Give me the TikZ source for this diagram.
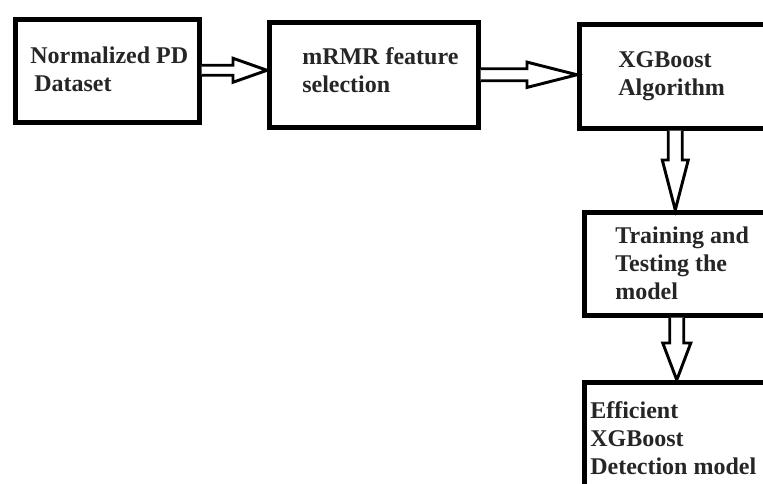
\documentclass[tikz,border=0pt]{standalone}
\usepackage{fontspec}
\setmainfont{Liberation Serif}
\usetikzlibrary{calc}
\tikzset{
  px/.style={x=0.75pt,y=-0.75pt},
  box/.style={draw=black,line width=3.4pt,fill=white,inner sep=0pt},
  barrow/.style={draw=black,line width=2.2pt,fill=white,line join=miter},
  lbl/.style={anchor=north west,inner sep=0pt,align=left,font=\bfseries\fontsize{18}{21}\selectfont,text=black!85}
}
\newcommand{\harr}[5]{\draw[barrow] let \p1=(#1), \p2=(#2) in
  (\x1,\y1+#3) -- (\x2-#5,\y1+#3) -- (\x2-#5,\y1+#4) -- (\x2,\y1) -- (\x2-#5,\y1-#4) -- (\x2-#5,\y1-#3) -- (\x1,\y1-#3);}
\newcommand{\varr}[5]{\draw[barrow] let \p1=(#1), \p2=(#2) in
  (\x1-#3,\y1) -- (\x1-#3,\y2+#5) -- (\x1-#4,\y2+#5) -- (\x1,\y2) -- (\x1+#4,\y2+#5) -- (\x1+#3,\y2+#5) -- (\x1+#3,\y1);}
\begin{document}
\begin{tikzpicture}[px]
\useasboundingbox (0,0) rectangle (763,483);
\clip (0,0) rectangle (763,483);
\fill[white] (0,0) rectangle (763,483);
% boxes
\node[box,minimum width=184*0.75pt,minimum height=103*0.75pt,anchor=north west] (b1) at (13,17) {};
\node[box,minimum width=209*0.75pt,minimum height=105*0.75pt,anchor=north west] (b2) at (267,20) {};
\node[box,minimum width=200*0.75pt,minimum height=104*0.75pt,anchor=north west] (b3) at (577,22) {};
\node[box,minimum width=195*0.75pt,minimum height=103*0.75pt,anchor=north west] (b4) at (582,210) {};
\node[box,minimum width=195*0.75pt,minimum height=130*0.75pt,anchor=north west] (b5) at (582,380) {};
% texts
\node[lbl] (t1) at (30,47) {Normalized PD\\\hspace{3pt}Dataset};
\node[lbl] (t2) at (302,47) {mRMR feature\\selection};
\node[lbl] (t3) at (618,51) {XGBoost\\Algorithm};
\node[lbl] (t4) at (615,227) {Training and\\Testing the\\model};
\node[lbl] (t5) at (590,401) {Efficient\\XGBoost\\Detection model};
% connectors
\coordinate (a1s) at ($(b1.east)+(0,-0.5)$);
\coordinate (a1e) at ($(b2.west)+(0,-4.5)$);
\harr{a1s}{a1e}{3.75pt}{9pt}{25.5pt}
\coordinate (a2s) at (b2.east);
\coordinate (a2e) at ($(b3.west)+(0,-1.5)$);
\harr{a2s}{a2e}{4.5pt}{9.5pt}{37.5pt}
\coordinate (a3s) at ($(b3.south)+(-4,0)$);
\coordinate (a3e) at ($(b4.north)+(-4,0)$);
\varr{a3s}{a3e}{5.25pt}{9.75pt}{37.5pt}
\coordinate (a4s) at ($(b4.south)+(-5,0)$);
\coordinate (a4e) at ($(b5.north)+(-5,0)$);
\varr{a4s}{a4e}{5.25pt}{10.5pt}{27.75pt}
\end{tikzpicture}
\end{document}
